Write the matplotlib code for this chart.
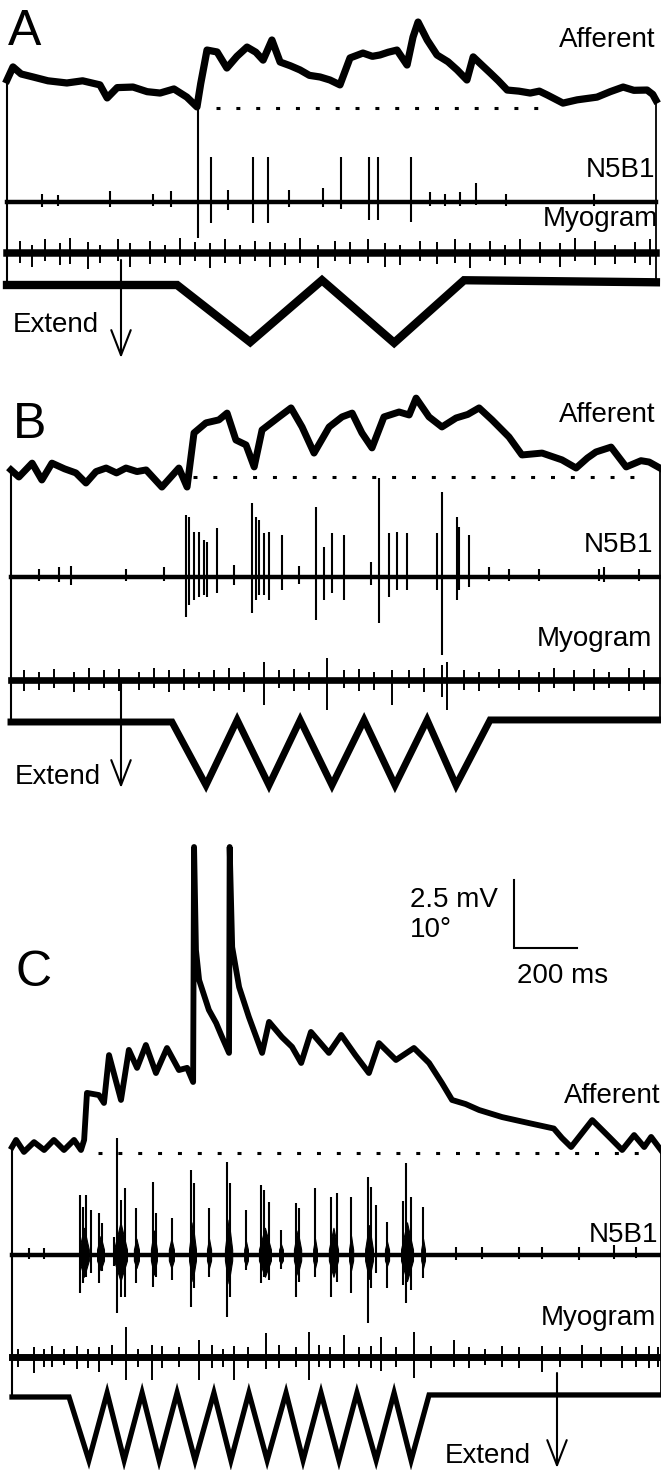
import numpy as np
import matplotlib
matplotlib.use("Agg")
from matplotlib import pyplot as plt

plt.rcParams['font.family'] = ['Liberation Sans', 'DejaVu Sans']

######### Data : time in ms, traces in mV, stimulus in degrees #########

#### Panel A ####
aff_t_A = [0, 19, 45, 83, 130, 190, 240, 295, 318, 350, 400, 445, 486, 530, 571, 603, 615, 635, 667, 698,
           730, 762, 790, 813, 841, 867, 900, 930, 960, 994, 1025, 1057, 1089, 1130, 1160, 1184, 1210, 1238, 1270, 1289,
           1305, 1334, 1365, 1400, 1429, 1460, 1480, 1510, 1534, 1560, 1588, 1625, 1661, 1690, 1715, 1765, 1810, 1873, 1915, 1956,
           1990, 2032, 2050, 2060]
aff_v_A = [1.03, 1.51, 1.25, 1.14, 1.00, 0.92, 1.00, 0.85, 0.37, 0.75, 0.77, 0.60, 0.55, 0.70, 0.40, 0.04, 0.90, 2.13, 2.06, 1.47,
           1.90, 2.24, 2.05, 1.76, 2.50, 1.69, 1.55, 1.40, 1.20, 1.14, 1.03, 0.85, 1.84, 2.02, 1.90, 1.95, 2.05, 2.13, 1.58, 2.61,
           3.16, 2.50, 1.95, 1.70, 1.40, 1.03, 1.88, 1.55, 1.29, 1.00, 0.66, 0.62, 0.55, 0.62, 0.48, 0.18, 0.30, 0.40, 0.60, 0.77,
           0.65, 0.66, 0.50, 0.29]
rest_A = [665, 1715]

nrv_t_A = [111, 162, 327, 464, 521, 606, 648, 702, 781, 829, 895, 1003, 1060, 1149, 1178, 1283, 1343, 1391, 1438, 1489, 1584, 1864]
nrv_up_A = [0.30, 0.25, 0.40, 0.30, 0.40, 3.50, 1.65, 0.44, 1.65, 1.65, 0.44, 0.51, 1.65, 1.65, 1.65, 1.65, 0.35, 0.30, 0.35, 0.70, 0.30, 0.30]
nrv_dn_A = [-0.20, -0.15, -0.20, -0.15, -0.20, -1.32, -0.77, -0.29, -0.77, -0.77, -0.18, -0.18, -0.25, -0.66, -0.66, -0.74, -0.15, -0.15, -0.15, -0.11, -0.15, -0.15]

myo_t_A = [41, 79, 121, 168, 200, 257, 295, 352, 391, 454, 502, 549, 597, 645, 692, 740, 787, 835, 883, 930,
           987, 1041, 1089, 1146, 1200, 1248, 1311, 1365, 1422, 1470, 1534, 1581, 1629, 1692, 1756, 1803, 1867, 1930, 1994, 2041]
myo_up_A = [0.45, 0.30, 0.50, 0.35, 0.55, 0.40, 0.30, 0.50, 0.35, 0.45, 0.30, 0.55, 0.40, 0.35, 0.50, 0.30, 0.45, 0.40, 0.35, 0.55,
            0.30, 0.45, 0.40, 0.50, 0.35, 0.30, 0.45, 0.40, 0.50, 0.35, 0.45, 0.30, 0.50, 0.40, 0.35, 0.55, 0.45, 0.30, 0.40, 0.50]
myo_dn_A = [-0.35, -0.50, -0.30, -0.45, -0.40, -0.60, -0.35, -0.30, -0.50, -0.40, -0.35, -0.45, -0.30, -0.55, -0.35, -0.40, -0.30, -0.50, -0.45, -0.35,
            -0.55, -0.30, -0.40, -0.35, -0.50, -0.45, -0.30, -0.40, -0.35, -0.55, -0.30, -0.45, -0.40, -0.35, -0.50, -0.30, -0.45, -0.40, -0.35, -0.45]

stim_t_A = [0, 540, 772, 1000, 1229, 1451, 2060]
stim_deg_A = [0, 0, -8.4, 0.7, -8.5, 0.7, 0.4]

#### Panel B ####
aff_t_B = [0, 25, 67, 98, 130, 170, 206, 238, 270, 302, 335, 365, 400, 429, 479, 533, 559, 581, 619, 660,
           686, 714, 746, 772, 797, 851, 889, 924, 962, 1010, 1051, 1083, 1114, 1146, 1184, 1232, 1264, 1286, 1327, 1368,
           1413, 1450, 1486, 1527, 1581, 1622, 1686, 1749, 1794, 1830, 1857, 1905, 1953, 2000, 2026, 2060]
aff_v_B = [0.26, 0.00, 0.51, -0.11, 0.51, 0.30, 0.15, -0.22, 0.20, 0.33, 0.15, 0.33, 0.20, 0.26, -0.37, 0.33, -0.37, 1.62, 1.99, 2.10,
           2.35, 1.36, 1.18, 0.37, 1.73, 2.21, 2.54, 1.84, 0.88, 1.84, 2.21, 2.35, 1.62, 1.07, 2.21, 2.39, 2.28, 2.90, 2.21, 1.84,
           2.17, 2.30, 2.54, 2.10, 1.47, 0.81, 0.88, 0.63, 0.33, 0.70, 0.92, 1.10, 0.37, 0.60, 0.55, 0.33]
rest_B = [578, 2007]

nrv_t_B = [89, 152, 190, 365, 486, 556, 565, 581, 597, 613, 622, 654, 708, 765, 778, 787, 803, 819, 860, 914,
           968, 994, 1019, 1057, 1143, 1168, 1200, 1226, 1257, 1353, 1368, 1416, 1422, 1454, 1518, 1581, 1676, 1867, 1883, 1994]
nrv_up_B = [0.30, 0.35, 0.40, 0.30, 0.35, 2.28, 2.21, 1.65, 1.65, 1.36, 1.29, 1.80, 0.45, 2.72, 2.21, 2.10, 1.62, 1.65, 1.54, 0.40,
            2.57, 1.10, 1.62, 1.54, 0.55, 3.64, 1.62, 1.65, 1.62, 1.62, 3.13, 2.21, 1.84, 1.54, 0.35, 0.30, 0.30, 0.30, 0.35, 0.30]
nrv_dn_B = [-0.15, -0.20, -0.30, -0.15, -0.15, -1.47, -1.03, -0.85, -0.74, -0.66, -0.74, -0.59, -0.30, -1.32, -0.85, -0.66, -0.66, -0.85, -0.48, -0.25,
            -1.58, -0.85, -0.59, -0.85, -0.29, -1.69, -0.74, -0.48, -0.48, -0.48, -2.87, -0.85, -0.48, -0.37, -0.15, -0.15, -0.15, -0.15, -0.20, -0.15]

myo_t_B = [41, 89, 137, 200, 248, 295, 343, 406, 454, 502, 549, 597, 645, 692, 740, 803, 851, 899, 946, 1003,
           1057, 1105, 1153, 1210, 1264, 1311, 1368, 1384, 1438, 1486, 1549, 1613, 1676, 1724, 1787, 1851, 1899, 1962, 2010]
myo_up_B = [0.35, 0.30, 0.40, 0.30, 0.45, 0.35, 0.40, 0.30, 0.45, 0.35, 0.40, 0.30, 0.35, 0.45, 0.30, 0.66, 0.35, 0.40, 0.30, 0.81,
            0.35, 0.40, 0.30, 0.37, 0.35, 0.45, 0.55, 0.66, 0.35, 0.30, 0.40, 0.35, 0.30, 0.45, 0.35, 0.40, 0.30, 0.45, 0.35]
myo_dn_B = [-0.40, -0.35, -0.30, -0.45, -0.35, -0.30, -0.40, -0.35, -0.30, -0.45, -0.35, -0.30, -0.40, -0.35, -0.45, -0.92, -0.30, -0.40, -0.35, -1.10,
            -0.30, -0.40, -0.35, -0.92, -0.30, -0.45, -0.63, -1.10, -0.35, -0.40, -0.30, -0.35, -0.45, -0.30, -0.40, -0.35, -0.30, -0.40, -0.35]

stim_t_B = [0, 511, 619, 718, 819, 918, 1019, 1121, 1219, 1321, 1413, 1521, 2060]
stim_deg_B = [0, 0, -9.3, 0.3, -9.3, 0.3, -9.3, 0.3, -9.3, 0.3, -9.3, 0.3, 0.3]

#### Panel C ####
aff_t_C = [0, 13, 38, 70, 102, 133, 165, 197, 219, 229, 238, 276, 292, 308, 346, 371, 397, 425, 457, 492,
           530, 556, 575, 578, 584, 594, 625, 648, 664, 689, 691, 699, 721, 752, 794, 816, 857, 889, 918, 949,
           1006, 1045, 1090, 1133, 1165, 1219, 1276, 1324, 1365, 1397, 1440, 1483, 1556, 1641, 1720, 1746, 1775, 1842, 1895, 1937,
           1975, 2007, 2029, 2060]
aff_v_C = [0.22, 0.48, 0.04, 0.40, 0.11, 0.48, 0.11, 0.48, 0.11, 0.48, 2.21, 2.13, 1.84, 3.60, 1.95, 3.79, 3.13, 3.97, 2.94, 3.86,
           3.05, 3.13, 2.61, 11.25, 7.46, 6.36, 5.26, 4.78, 4.34, 3.68, 11.25, 7.57, 6.10, 5.00, 3.68, 4.82, 4.26, 3.90, 3.31, 4.45,
           3.68, 4.34, 3.60, 2.94, 4.04, 3.42, 3.86, 3.31, 2.57, 1.95, 1.80, 1.58, 1.32, 1.10, 0.90, 0.55, 0.22, 1.21, 0.60, 0.11,
           0.66, 0.22, 0.59, 0.11]
rest_C = [273, 2010]

nrv_t_C = [54, 102, 216, 225, 235, 251, 276, 286, 324, 333, 346, 359, 394, 448, 457, 508, 568, 578, 625, 683,
           692, 743, 791, 800, 816, 854, 902, 911, 962, 1013, 1032, 1076, 1130, 1140, 1156, 1191, 1241, 1251, 1267, 1305,
           1410, 1492, 1610, 1683, 1800, 1911, 1981]
nrv_up_C = [0.25, 0.25, 2.21, 1.76, 2.21, 1.65, 1.54, 1.18, 0.66, 4.30, 2.02, 2.46, 1.73, 2.68, 1.54, 1.36, 3.13, 2.65, 1.73, 3.42,
            2.65, 1.65, 2.57, 2.39, 1.95, 0.92, 1.91, 1.73, 2.46, 2.13, 2.28, 2.13, 2.87, 2.50, 1.84, 1.21, 2.00, 3.38, 2.13, 1.76,
            0.30, 0.30, 0.30, 0.30, 0.30, 0.35, 0.30]
nrv_dn_C = [-0.15, -0.15, -1.40, -1.03, -0.80, -0.66, -1.03, -0.60, -0.40, -2.13, -1.54, -1.54, -1.03, -1.18, -0.80, -0.92, -1.91, -1.20, -0.81, -2.28,
            -1.54, -0.55, -1.03, -0.80, -0.92, -0.50, -1.54, -1.00, -0.81, -1.54, -1.00, -1.40, -2.50, -1.20, -0.66, -1.21, -1.10, -1.76, -1.30, -0.85,
            -0.20, -0.15, -0.15, -0.15, -0.20, -0.15, -0.10]

# bursts of dense firing in N5B1 (start, end in ms; peak half height in mV)
burst_t0_C = [213, 270, 324, 387, 441, 498, 562, 619, 676, 737, 784, 848, 895, 956, 1006, 1070, 1121, 1184, 1235, 1299]
burst_t1_C = [244, 292, 365, 403, 460, 514, 584, 632, 699, 749, 822, 860, 918, 968, 1035, 1083, 1146, 1197, 1273, 1311]
burst_h_C = [1.0, 0.7, 1.2, 0.6, 0.9, 0.6, 1.2, 0.6, 1.3, 0.5, 1.0, 0.4, 0.9, 0.6, 1.0, 0.7, 1.1, 0.5, 1.2, 0.6]

myo_t_C = [20, 70, 100, 127, 165, 206, 240, 276, 318, 362, 400, 445, 476, 530, 594, 635, 670, 705, 750, 806,
           848, 900, 943, 975, 1010, 1054, 1100, 1140, 1172, 1220, 1276, 1330, 1403, 1450, 1500, 1556, 1610, 1683, 1740, 1810,
           1870, 1937, 1980, 2022, 2050]
myo_up_C = [0.30, 0.35, 0.30, 0.40, 0.30, 0.40, 0.30, 0.35, 0.45, 1.10, 0.30, 0.45, 0.40, 0.35, 0.62, 0.45, 0.30, 0.40, 0.35, 0.88,
            0.45, 0.35, 0.92, 0.45, 0.35, 0.81, 0.35, 0.40, 0.74, 0.35, 0.92, 0.40, 0.62, 0.35, 0.30, 0.40, 0.35, 0.40, 0.35, 0.45,
            0.35, 0.40, 0.35, 0.40, 0.35]
myo_dn_C = [-0.35, -0.60, -0.35, -0.35, -0.30, -0.45, -0.40, -0.55, -0.30, -0.85, -0.35, -0.85, -0.40, -0.35, -0.85, -0.40, -0.35, -0.85, -0.40, -0.45,
            -0.40, -0.35, -0.85, -0.35, -0.40, -0.40, -0.35, -0.40, -0.50, -0.35, -0.78, -0.40, -0.35, -0.40, -0.30, -0.35, -0.40, -0.55, -0.35, -0.40,
            -0.35, -0.40, -0.35, -0.40, -0.35]

stim_t_C = [0, 181, 244, 302, 356, 413, 467, 524, 581, 641, 695, 752, 810, 870, 924, 981, 1038, 1095, 1156, 1213,
            1267, 1324, 2060]
stim_deg_C = [0, 0, -9.3, 0.6, -9.3, 0.6, -9.3, 0.6, -9.3, 0.6, -9.3, 0.6, -9.3, 0.6, -9.3, 0.6, -9.3, 0.6, -9.3, 0.6,
              -9.3, 0.3, 0.3]

SCALE_MS = 200
SCALE_MV = 2.5
SWEEP = 2060

######### Layout (pixels of the 661 x 1470 figure) #########
PX_MS = 0.315        # 200 ms = 63 px
PX_MV = 27.2         # 2.5 mV = 68 px
MV_PER_DEG = 0.25    # 10 deg drawn like 2.5 mV

# x0 = left edge of sweep, then baselines of afferent, N5B1, myogram, stimulus
panels = {
    'A': dict(x0=7, aff=108, nrv=202, myo=253, stim=285, lw_aff=5.2, lw_myo=5.4, lw_stim=6.0),
    'B': dict(x0=11, aff=477, nrv=577, myo=680, stim=722, lw_aff=5.0, lw_myo=4.8, lw_stim=5.0),
    'C': dict(x0=12, aff=1153, nrv=1255, myo=1357, stim=1397, lw_aff=4.2, lw_myo=5.0, lw_stim=3.8),
}

fig = plt.figure(figsize=(6.61, 14.70), dpi=100)
ax = fig.add_axes([0, 0, 1, 1])
ax.set_xlim(0, 661 / PX_MS)
ax.set_ylim(-1470 / PX_MV, 0)
ax.axis('off')


def tx(p, t):
    return p['x0'] / PX_MS + np.asarray(t, dtype=float)


def ty(base, v):
    return -base / PX_MV + np.asarray(v, dtype=float)


def pos(xpx, ypx):
    return xpx / PX_MS, -ypx / PX_MV


def draw_panel(p, aff_t, aff_v, rest, nrv_t, nrv_up, nrv_dn, myo_t, myo_up, myo_dn, stim_t, stim_deg):
    stim_v = np.asarray(stim_deg) * MV_PER_DEG
    # vertical joins at both ends of the sweep
    ax.plot(tx(p, [0, 0]), [ty(p['aff'], aff_v[0]), ty(p['stim'], stim_v[0])], color='k', lw=1.5)
    ax.plot(tx(p, [SWEEP, SWEEP]), [ty(p['aff'], aff_v[-1]), ty(p['stim'], stim_v[-1])], color='k', lw=1.3)
    # afferent + resting level
    ax.plot(tx(p, aff_t), ty(p['aff'], aff_v), color='k', lw=p['lw_aff'], solid_joinstyle='round')
    ax.plot(tx(p, rest), ty(p['aff'], [0, 0]), color='k', lw=2.2, ls=(0, (1.3, 5.2)), dash_capstyle='butt')
    # N5B1
    ax.plot(tx(p, [0, SWEEP]), ty(p['nrv'], [0, 0]), color='k', lw=3.2)
    ax.vlines(tx(p, nrv_t), ty(p['nrv'], nrv_dn), ty(p['nrv'], nrv_up), color='k', lw=1.5)
    # myogram
    ax.plot(tx(p, [0, SWEEP]), ty(p['myo'], [0, 0]), color='k', lw=p['lw_myo'])
    ax.vlines(tx(p, myo_t), ty(p['myo'], myo_dn), ty(p['myo'], myo_up), color='k', lw=1.4)
    # stimulus
    ax.plot(tx(p, stim_t), ty(p['stim'], stim_v), color='k', lw=p['lw_stim'], solid_joinstyle='miter')


pA, pB, pC = panels['A'], panels['B'], panels['C']
draw_panel(pA, aff_t_A, aff_v_A, rest_A, nrv_t_A, nrv_up_A, nrv_dn_A, myo_t_A, myo_up_A, myo_dn_A, stim_t_A, stim_deg_A)
draw_panel(pB, aff_t_B, aff_v_B, rest_B, nrv_t_B, nrv_up_B, nrv_dn_B, myo_t_B, myo_up_B, myo_dn_B, stim_t_B, stim_deg_B)
draw_panel(pC, aff_t_C, aff_v_C, rest_C, nrv_t_C, nrv_up_C, nrv_dn_C, myo_t_C, myo_up_C, myo_dn_C, stim_t_C, stim_deg_C)

# dense bursts in C, drawn as spindles
for t0, t1, h in zip(burst_t0_C, burst_t1_C, burst_h_C):
    tb = [t0, (t0 + t1) / 2, t1]
    ax.fill_between(tx(pC, tb), ty(pC['nrv'], [-0.2, -h * 0.8, -0.2]), ty(pC['nrv'], [0.2, h, 0.2]),
                    color='k', lw=0.8, edgecolor='k')

######### Labels #########
lab = dict(fontsize=20, color='k', va='baseline')
big = dict(fontsize=36, color='k', va='baseline')

ax.text(*pos(8, 45), 'A', **big)
ax.text(*pos(13, 438), 'B', **big)
ax.text(*pos(15, 986), 'C', **big)

for xr, yb, s in [(655, 47, 'Afferent'), (655, 177, 'N5B1'), (658, 226, 'Myogram'),
                  (655, 422, 'Afferent'), (653, 552, 'N5B1'), (652, 646, 'Myogram'),
                  (660, 1103, 'Afferent'), (658, 1242, 'N5B1'), (656, 1325, 'Myogram')]:
    ax.text(*pos(xr, yb), s, ha='right', **lab)

arrow = dict(arrowstyle='->,head_length=1.8,head_width=0.7', lw=1.5, color='k',
             shrinkA=0, shrinkB=0, mutation_scale=10)
for xa, y0, y1, xt, yt in [(121, 260, 358, 13, 332), (121, 680, 788, 15, 784), (557, 1373, 1468, 445, 1463)]:
    ax.annotate('', xy=pos(xa, y1), xytext=pos(xa, y0), arrowprops=arrow)
    ax.text(*pos(xt, yt), 'Extend', ha='left', **lab)

# scale bar
sx, sy = pos(514, 948)
ax.plot([sx, sx, sx + SCALE_MS], [sy + SCALE_MV, sy, sy], color='k', lw=1.5, solid_joinstyle='miter')
ax.text(*pos(410, 907), '2.5 mV', ha='left', **lab)
ax.text(*pos(410, 937), '10°', ha='left', **lab)
ax.text(*pos(517, 983), '200 ms', ha='left', **lab)

fig.savefig('out.png', dpi=100, facecolor='white')
